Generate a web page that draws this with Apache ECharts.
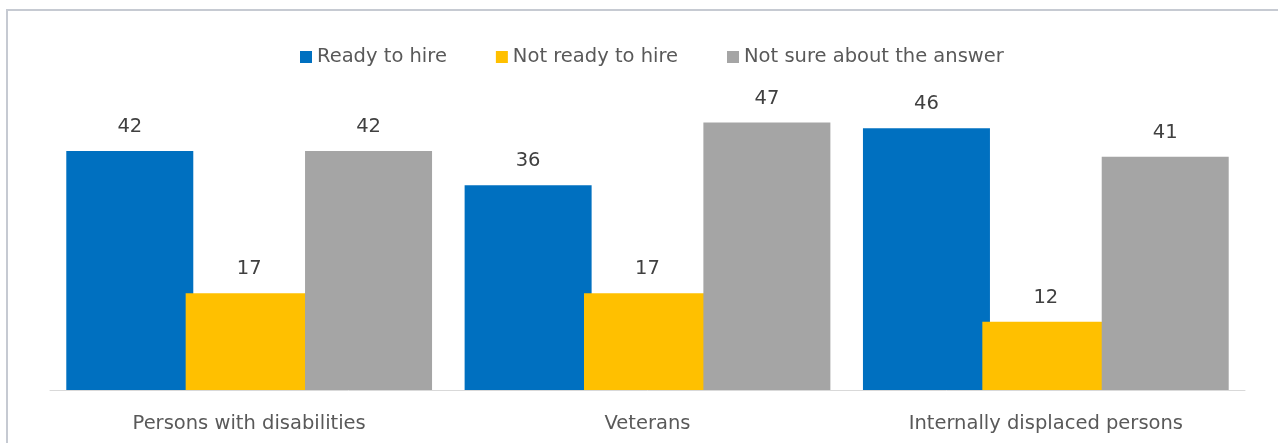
<!DOCTYPE html>
<html>
<head>
<meta charset="utf-8">
<style>
  html, body { margin: 0; padding: 0; background: #ffffff; }
  #chart { width: 1278px; height: 443px; }
</style>
<script src="https://cdn.jsdelivr.net/npm/echarts@6/dist/echarts.min.js"></script>
</head>
<body>
<div id="chart"></div>
<script>
// Hiring readiness by group (percent of respondents)
const categories = ['Persons with disabilities', 'Veterans', 'Internally displaced persons'];
const seriesNames = ['Ready to hire', 'Not ready to hire', 'Not sure about the answer'];
const readyToHire = [42, 36, 46];
const notReadyToHire = [17, 17, 12];
const notSure = [42, 47, 41];
const seriesColors = ['#0070C0', '#FFC000', '#A5A5A5'];

const FONT = 'DejaVu Sans';
const chart = echarts.init(document.getElementById('chart'), null, { renderer: 'canvas' });

const values = [readyToHire, notReadyToHire, notSure];

chart.setOption({
  animation: false,
  textStyle: { fontFamily: FONT },
  graphic: [{
    type: 'rect',
    shape: { x: 7, y: 10, width: 1290, height: 460 },
    style: { fill: 'none', stroke: '#C6CAD2', lineWidth: 2 },
    silent: true,
    z: -1
  }],
  legend: {
    left: 295,
    top: 42,
    itemWidth: 12,
    itemHeight: 12,
    itemGap: 49,
    icon: 'rect',
    textStyle: { color: '#595959', fontSize: 19.5, fontFamily: FONT },
    data: seriesNames
  },
  grid: { left: 50, right: 33, top: 105.5, bottom: 53, containLabel: false },
  xAxis: {
    type: 'category',
    data: categories,
    axisTick: { show: false },
    axisLine: { show: true, lineStyle: { color: '#D9D9D9', width: 1 } },
    axisLabel: { color: '#595959', fontSize: 19.5, fontFamily: FONT, margin: 24 }
  },
  yAxis: {
    type: 'value',
    min: 0,
    max: 50,
    show: false,
    splitLine: { show: false }
  },
  series: seriesNames.map((name, i) => ({
    name,
    type: 'bar',
    data: values[i],
    barWidth: 127,
    barGap: '-6%',
    itemStyle: { color: seriesColors[i] },
    label: {
      show: true,
      position: 'top',
      distance: 14,
      color: '#404040',
      fontSize: 19.5,
      fontFamily: FONT
    }
  }))
});
</script>
</body>
</html>
